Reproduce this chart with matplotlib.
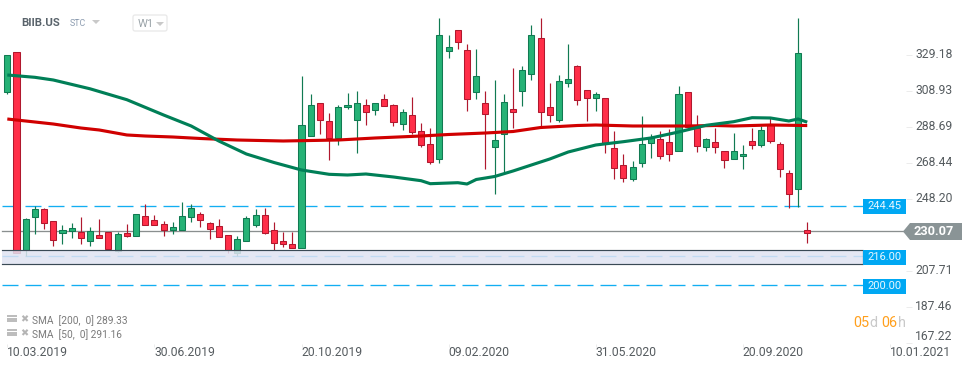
import matplotlib
matplotlib.use("Agg")
import matplotlib.pyplot as plt
from matplotlib.patches import Polygon, Rectangle, FancyBboxPatch
from matplotlib.transforms import ScaledTranslation

plt.rcParams['font.family'] = ['Roboto', 'DejaVu Sans']
plt.rcParams['lines.scale_dashes'] = False

# ---- data ----
directions = ("GRGGRRGGRG" "RRGRGRRRGG" "GRRRRGGGRR" "RRGGRRGGGR" "GRRGRRRGGR"
              "RGRGGRGGRR" "GGRRGRRRGG" "GRRGRRGRRG" "GRGRRRGR")
body_top = [329.18,330.86,236.77,242.40,242.40,235.65,230.59,231.71,229.63,230.03,
            227.95,229.80,228.34,228.90,239.59,238.46,236.21,233.96,232.28,238.46,
            242.96,239.59,234.53,232.84,227.77,225.53,237.34,239.02,239.02,230.59,
            224.40,222.72,289.64,300.89,302.02,291.89,299.76,300.89,302.02,300.89,
            302.02,304.26,300.89,296.95,295.27,286.27,278.96,340.26,333.51,343.07,
            331.82,317.20,302.02,281.21,302.58,298.64,320.57,340.26,338.57,299.76,
            314.39,315.51,322.82,309.32,307.07,304.83,276.71,267.15,266.02,278.96,
            282.89,281.77,280.08,307.07,308.20,287.95,281.77,280.08,275.02,275.02,
            273.33,280.64,286.83,289.64,278.96,262.64,330.13,230.76]
body_bottom = [308.37,217.99,219.51,238.24,234.53,225.30,229.24,230.37,226.43,224.74,
               226.43,220.07,218.95,227.55,227.55,233.74,233.74,230.93,230.93,230.93,
               238.24,236.55,231.49,226.65,219.34,217.66,224.74,233.74,229.24,223.62,
               223.05,220.81,220.81,283.45,292.45,282.33,282.33,299.76,292.45,296.95,
               298.08,300.33,291.33,290.20,285.70,278.39,268.83,270.52,331.26,336.32,
               304.26,308.20,295.83,277.27,284.58,296.95,308.76,318.32,296.95,295.27,
               292.45,313.26,303.70,304.83,304.83,279.52,265.46,259.83,259.27,268.27,
               279.52,272.21,273.33,275.02,288.52,277.83,277.27,277.27,269.96,270.52,
               272.21,278.39,278.39,280.64,264.89,250.84,253.65,229.24]
wick_high = [329.18,330.86,237.51,244.42,243.13,235.65,233.57,234.70,237.90,232.44,
             236.95,229.80,229.46,234.13,239.59,245.38,239.19,235.65,235.25,246.51,
             245.38,240.88,235.09,236.77,227.77,227.22,238.46,242.40,242.96,235.09,
             229.46,229.46,317.37,307.24,302.02,296.39,300.89,307.81,308.93,304.43,
             302.02,307.24,301.62,298.81,305.56,290.93,288.12,349.99,340.43,343.07,
             335.36,332.55,308.93,315.12,307.24,321.87,322.99,346.05,349.99,313.43,
             317.93,335.36,323.55,309.32,308.20,304.83,286.44,273.50,269.56,294.87,
             284.75,286.44,287.56,311.74,308.20,295.43,282.50,288.12,275.02,285.31,
             278.56,288.12,289.25,293.75,280.25,264.50,349.99,235.09]
wick_low = [307.24,217.99,216.14,228.51,231.49,221.93,222.89,226.26,222.89,221.93,
            226.43,219.51,218.39,226.99,227.55,233.74,233.74,227.55,228.68,230.93,
            235.25,232.61,225.87,226.65,217.99,215.97,224.74,232.61,228.68,219.51,
            221.37,220.81,220.81,283.45,284.75,270.29,278.73,298.98,274.23,289.81,
            295.43,300.33,289.42,287.00,284.75,277.44,267.88,268.44,327.49,332.72,
            297.68,304.43,265.06,251.17,262.81,288.12,300.49,315.12,289.25,291.50,
            291.67,311.18,301.23,292.06,297.68,274.06,259.44,257.75,258.49,266.36,
            271.25,270.69,269.56,275.02,288.52,274.62,275.19,274.06,265.63,270.52,
            265.06,276.31,277.44,279.69,260.57,243.30,243.86,223.28]

sma50_idx = [0,3,5,9,13,17,20,23,26,29,32,35,37,39,42,45,46,49,50,51,53,55,57,59,61,64,67,70,73,76,79,81,83,85,86,87]
sma50_val = [317.93,316.63,315.12,310.17,304.04,295.43,289.25,280.81,273.50,268.72,264.50,262.08,
             261.69,262.25,260.57,258.49,256.80,257.36,256.63,259.16,260.85,263.94,267.32,270.69,
             274.62,278.56,280.42,282.50,285.87,289.64,291.67,293.92,293.75,292.06,293.18,291.40]
sma200_idx = [0,3,5,8,10,13,15,18,21,25,30,36,40,45,48,52,55,58,62,64,68,74,77,79,83,87]
sma200_val = [293.18,291.50,290.37,288.12,287.00,284.20,283.62,283.06,282.22,281.37,280.81,281.37,
              282.50,283.62,284.47,285.31,286.15,288.40,289.53,289.81,289.25,289.25,289.53,289.25,
              289.81,289.50]

level_values = [244.45, 216.00, 200.00]
level_labels = ["244.45", "216.00", "200.00"]
zone_low, zone_high = 211.9, 219.23
last_price = 230.07
y_ticks = [329.18, 308.93, 288.69, 268.44, 248.20, 207.71, 187.46, 167.22]
y_tick_labels = ["329.18", "308.93", "288.69", "268.44", "248.20", "207.71", "187.46", "167.22"]
x_tick_idx = [0, 16, 32, 48, 64, 80, 96]
x_tick_labels = ["10.03.2019", "30.06.2019", "20.10.2019", "09.02.2020", "31.05.2020", "20.09.2020", "10.01.2021"]

# ---- layout ----
W, H = 974, 368
PLOT_R, PLOT_B = 906, 344
fig = plt.figure(figsize=(W / 100, H / 100), dpi=100, facecolor='white')
ax = fig.add_axes([0, 1 - PLOT_B / H, PLOT_R / W, PLOT_B / H])
ax.set_xlim(-0.794, 97.74)
ax.set_ylim(166.64, 360.11)
for s in ax.spines.values():
    s.set_visible(False)
ax.patch.set_alpha(0)

GREEN_F, GREEN_E = '#26b276', '#117a52'
RED_F, RED_E = '#ff2e48', '#b0182e'

# reference levels (below the zone overlay)
for v in level_values:
    ax.axhline(v, xmin=2 / PLOT_R, xmax=863 / PLOT_R, color='#12aef2', lw=0.95,
               linestyle=(0, (11.52, 5.04)), zorder=1)
ax.axhline(last_price, xmin=2 / PLOT_R, xmax=903 / PLOT_R, color='#8a8f8f', lw=0.95, zorder=1.5)

# candles
for i, d in enumerate(directions):
    f, e = (GREEN_F, GREEN_E) if d == 'G' else (RED_F, RED_E)
    ax.vlines(i, wick_low[i], wick_high[i], color=e, lw=0.85, zorder=2)
    ax.bar(i, body_top[i] - body_bottom[i], bottom=body_bottom[i], width=0.66,
           color=f, edgecolor=e, linewidth=0.75, zorder=3)

# zone overlay
x0 = ax.get_xlim()[0]
ax.add_patch(Rectangle((x0 + 2 / 9.195, zone_low), 861 / 9.195, zone_high - zone_low,
                       facecolor='#e0e3f2', alpha=0.85, edgecolor='none', zorder=4))
ax.plot([x0 + 2 / 9.195, x0 + 863 / 9.195, x0 + 863 / 9.195, x0 + 2 / 9.195],
        [zone_high, zone_high, zone_low, zone_low], color='#3a4a55', lw=0.85, zorder=4.5)

# moving averages
ax.plot(sma200_idx, sma200_val, color='#d00000', lw=2.25, solid_capstyle='butt', zorder=5)
ax.plot(sma50_idx, sma50_val, color='#007f57', lw=2.25, solid_capstyle='butt', zorder=6)

# ticks
ax.yaxis.tick_right()
ax.set_yticks(y_ticks)
ax.set_yticklabels(y_tick_labels)
ax.set_xticks(x_tick_idx)
ax.set_xticklabels(x_tick_labels, ha='left')
ax.tick_params(axis='both', width=0.7, color='#ececec', labelcolor='#555b5f', labelsize=8.7)
ax.tick_params(axis='x', length=2, pad=-0.5)
ax.tick_params(axis='y', length=4, pad=2.5)
ylabels = ax.get_yticklabels()
ylabels[-1].set_verticalalignment('bottom')
shift = ScaledTranslation(0, 1.5 / 72 * 0.72 * 1.4, fig.dpi_scale_trans)
for lb in ylabels[:-1]:
    lb.set_transform(lb.get_transform() + shift)

# ---- overlay in pixel coordinates: header, badges, legend, timer ----
ov = fig.add_axes([0, 0, 1, 1])
ov.set_xlim(0, W)
ov.set_ylim(H, 0)
ov.axis('off')
ov.patch.set_alpha(0)

ov.text(21, 23, "BIIB.US", fontsize=8.2, fontweight='bold', color='#59636b', va='center')
ov.text(70, 24, "STC", fontsize=6.4, color='#8c9cb0', va='center')
ov.add_patch(Polygon([(92, 20), (100, 20), (96, 24)], color='#c9c9c9', lw=0))
ov.add_patch(FancyBboxPatch((133, 15), 34, 16, boxstyle='round,pad=0,rounding_size=2',
                            facecolor='white', edgecolor='#e8e8e8', lw=0.9))
ov.text(138, 24, "W1", fontsize=8, color='#9aa3a8', va='center')
ov.add_patch(Polygon([(156, 22), (164, 22), (160, 26)], color='#c9c9c9', lw=0))

# badges for levels
for (top, bot), lab in zip([(199.3, 214), (250, 265), (279, 294)], level_labels):
    ov.add_patch(Rectangle((863, top), 43, bot - top, color='#00a8f3', lw=0))
    ov.text(884.5, (top + bot) / 2 - 0.5, lab, color='#e8f7ff', fontsize=8, ha='center', va='center')

# last price badge
ov.add_patch(Polygon([(903, 231.5), (910, 223), (962, 223), (962, 240), (910, 240)], color='#8a9496', lw=0))
ov.text(914, 231.8, f"{last_price:.2f}", color='white', fontsize=9.2, fontweight='bold', va='center')

# legend rows
for y, txt in [(321, "SMA  [200,  0] 289.33"), (335, "SMA  [50,  0] 291.16")]:
    for dy in (-4, -1.5, 1):
        ov.plot([7, 17], [y - 1 + dy, y - 1 + dy], color='#b0b0b0', lw=1.2, solid_capstyle='butt')
    ov.text(24, y - 2, "\u2716", fontsize=7, color='#b5b5b5', ha='center', va='center', family='DejaVu Sans')
    ov.text(32, y, txt, fontsize=7.3, color='#7a7a7a', va='center')

# timer
for x, s, c in [(853, "05", '#ff9f1c'), (869, "d", '#c9c9c9'), (881, "06", '#ff9f1c'), (898, "h", '#c9c9c9')]:
    ov.text(x, 323, s, fontsize=10.4, color=c, va='center')

fig.savefig('out.png', dpi=100, facecolor='white')
